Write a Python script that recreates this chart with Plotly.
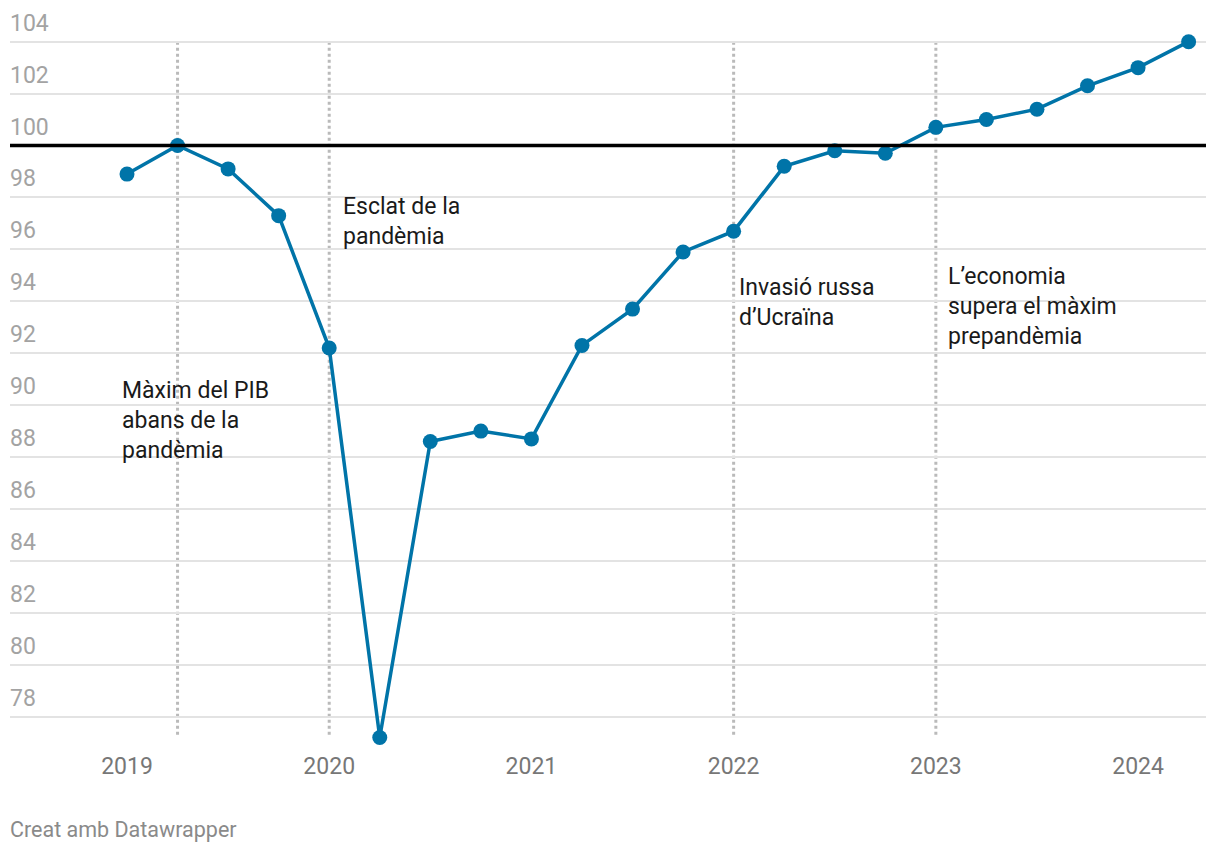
import plotly.graph_objects as go

# Data: quarterly GDP index (pre-pandemic max = 100)
quarters = [2019.0, 2019.25, 2019.5, 2019.75,
            2020.0, 2020.25, 2020.5, 2020.75,
            2021.0, 2021.25, 2021.5, 2021.75,
            2022.0, 2022.25, 2022.5, 2022.75,
            2023.0, 2023.25, 2023.5, 2023.75,
            2024.0, 2024.25]
values = [98.9, 100.0, 99.1, 97.3,
          92.2, 77.2, 88.6, 89.0,
          88.7, 92.3, 93.7, 95.9,
          96.7, 99.2, 99.8, 99.7,
          100.7, 101.0, 101.4, 102.3,
          103.0, 104.0]

x_tick_vals = [2019, 2020, 2021, 2022, 2023, 2024]
x_tick_text = ["2019", "2020", "2021", "2022", "2023", "2024"]
y_tick_vals = [78, 80, 82, 84, 86, 88, 90, 92, 94, 96, 98, 100, 102, 104]
y_tick_text = [str(v) for v in y_tick_vals]

event_x = [2019.25, 2020.0, 2022.0, 2023.0]
event_labels = ["Màxim del PIB<br>abans de la<br>pandèmia",
                "Esclat de la<br>pandèmia",
                "Invasió russa<br>d’Ucraïna",
                "L’economia<br>supera el màxim<br>prepandèmia"]
label_x = [2018.975, 2020.068, 2022.027, 2023.06]
label_y = [91.12, 98.21, 95.09, 95.51]

reference_level = 100

FONT = "Roboto"
BLUE = "#0074a8"

fig = go.Figure()

fig.add_trace(go.Scatter(
    x=quarters, y=values, mode="lines+markers",
    line=dict(color=BLUE, width=3.5),
    marker=dict(color=BLUE, size=15),
    hoverinfo="skip", showlegend=False,
))

shapes = []
for ex in event_x:
    shapes.append(dict(type="line", xref="x", yref="y", x0=ex, x1=ex,
                       y0=max(y_tick_vals), y1=min(values),
                       line=dict(color="#bababa", width=3, dash="dot"),
                       layer="below"))
shapes.append(dict(type="line", xref="paper", yref="y", x0=0, x1=1,
                   y0=reference_level, y1=reference_level,
                   line=dict(color="#000000", width=3.5), layer="above"))

annotations = []
for tv, tt in zip(y_tick_vals, y_tick_text):
    annotations.append(dict(xref="paper", yref="y", x=0, y=tv, text=tt,
                            showarrow=False, xanchor="left", yanchor="bottom",
                            yshift=3, xshift=-2,
                            font=dict(family=FONT, size=23, color="#a3a3a3")))
for lx, ly, lt in zip(label_x, label_y, event_labels):
    annotations.append(dict(xref="x", yref="y", x=lx, y=ly, text=lt,
                            showarrow=False, xanchor="left", yanchor="top",
                            align="left", xshift=-2, yshift=1,
                            font=dict(family=FONT, size=23, color="#1a1a1a")))
annotations.append(dict(xref="paper", yref="paper", x=0, y=-0.111, text="Creat amb Datawrapper",
                        showarrow=False, xanchor="left", yanchor="middle",
                        xshift=-2, yshift=0,
                        font=dict(family=FONT, size=21.5, color="#8a8a8a")))

fig.update_layout(
    width=1220, height=854,
    margin=dict(l=10, r=14, t=30, b=104),
    paper_bgcolor="white", plot_bgcolor="white",
    xaxis=dict(range=[2018.4214, 2024.336], tickvals=x_tick_vals, ticktext=x_tick_text,
               showgrid=False, zeroline=False, showline=False, ticks="",
               tickfont=dict(family=FONT, size=23, color="#777777"),
               fixedrange=True),
    yaxis=dict(range=[76.717, 104.45], tickvals=y_tick_vals, showticklabels=False,
               showgrid=True, gridcolor="#e3e3e3", gridwidth=2, zeroline=False,
               showline=False, ticks="", fixedrange=True),
    shapes=shapes,
    annotations=annotations,
    font=dict(family=FONT),
)

fig.write_html("out.html")
